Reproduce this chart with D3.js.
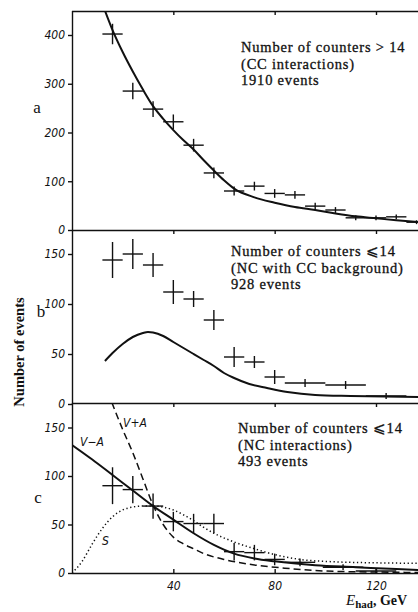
<!DOCTYPE html>
<html>
<head>
<meta charset="utf-8">
<script src="https://cdn.jsdelivr.net/npm/d3@7"></script>
<style>
  html, body { margin: 0; padding: 0; background: #fff; }
  svg { display: block; }
</style>
</head>
<body>
<div id="chart"></div>
<script>
// hadron energy bins (GeV) and counts
const energyA = [16, 24, 32, 40, 48, 56, 64, 72, 80, 88, 96, 104, 112, 120, 128, 136];
const countsA = [402, 285, 248, 222, 174, 117, 80, 90, 75, 72, 49, 41, 25, 25, 27, 16];
const errorsA = [21, 17, 16, 15, 13, 11, 9, 9, 9, 8, 7, 6, 5, 5, 5, 4];
const binHalfA = [4, 4, 4, 4, 4, 4, 4, 4, 4, 4, 4, 4, 4, 4, 4, 4];
const fitEnergyA = [13, 16, 20, 24, 28, 32, 36, 40, 44, 48, 52, 56, 60, 64, 72, 80, 88, 96, 104, 112, 120, 128, 137];
const fitA = [450, 410, 365, 325, 288, 254, 228, 205, 184, 165, 143, 122, 102, 85, 67, 56, 47, 41, 34, 28, 24, 20, 16];

const energyB = [16, 24, 32, 40, 48, 56, 64, 72, 80, 92, 108, 124];
const countsB = [144, 150, 139, 112, 105, 84, 47, 42, 27, 21, 19, 8];
const errorsB = [18, 15, 12, 12, 8, 10, 10, 6, 7, 4, 4, 3];
const binHalfB = [4, 4, 4, 4, 4, 4, 4, 4, 4, 8, 8, 8];
const fitEnergyB = [13, 16, 20, 24, 28, 30, 32, 36, 40, 44, 48, 52, 56, 60, 64, 70, 77, 85, 96, 110, 137];
const fitB = [43, 51, 60, 67, 71, 72, 71.5, 68, 62, 56, 50, 44, 38, 31, 26, 20, 16, 12, 9, 8, 7];

const energyC = [16, 24, 32, 40, 48, 56, 64, 72, 80, 90, 107, 120];
const countsC = [90, 86, 69, 53, 51, 51, 22, 21, 14, 11, 6, 2];
const errorsC = [19, 14, 13, 10, 10, 10, 9, 8, 6, 4, 3, 3];
const binHalfC = [4, 4, 4, 4, 4, 4, 4, 4, 4, 6, 8, 8];
const vmaEnergy = [0, 8, 16, 24, 32, 40, 48, 56, 64, 72, 80, 96, 112, 128, 137];
const vmaFit = [132, 117, 101, 85, 69, 55, 41, 29, 20, 15, 12, 8, 6, 4, 3];
const vpaEnergy = [15.7, 20, 24, 28, 32, 36, 40, 44, 48, 52, 60, 70, 84, 100, 120, 137];
const vpaFit = [176, 148, 124, 97, 70, 50, 37, 30, 25, 20, 14, 9, 5, 2, 1, 0.5];
const sEnergy = [0, 4, 8, 12, 16, 20, 24, 28, 32, 36, 40, 44, 48, 52, 56, 64, 72, 80, 90, 104, 120, 137];
const sFit = [0, 12, 30, 46, 58, 65, 68, 69, 69, 68, 65, 60, 54, 47, 41, 32, 25, 19, 14, 11.5, 10.5, 10];

const xTicks = [40, 80, 120];
const yTicksA = [0, 100, 200, 300, 400];
const yTicksB = [0, 50, 100, 150];
const yTicksC = [0, 50, 100, 150];

const notesA = ["Number of counters > 14", "(CC interactions)", "1910 events"];
const notesB = ["Number of counters \u2A7D14", "(NC with CC background)", "928 events"];
const notesC = ["Number of counters \u2A7D14", "(NC interactions)", "493 events"];

const width = 418, height = 612;
const left = 72;
const ink = "#111";
const tickFont = "'Liberation Sans Narrow', 'DejaVu Sans Condensed', 'Liberation Sans', sans-serif";
const serif = "'Liberation Serif', 'DejaVu Serif', serif";

const x = d3.scaleLinear().domain([0, 120]).range([left, 376]);

const panels = [
    { letter: "a", top: 11, bottom: 230, y: d3.scaleLinear().domain([0, 400]).range([230, 35]),
      ticks: yTicksA, energy: energyA, counts: countsA, errors: errorsA, half: binHalfA,
      notes: notesA, notesX: 241, notesY: 52, letterPos: [37, 113],
      curves: [{ e: fitEnergyA, v: fitA, dash: null, w: 2 }] },
    { letter: "b", top: 230, bottom: 404, y: d3.scaleLinear().domain([0, 150]).range([404, 254]),
      ticks: yTicksB, energy: energyB, counts: countsB, errors: errorsB, half: binHalfB,
      notes: notesB, notesX: 231, notesY: 256, letterPos: [41, 317],
      curves: [{ e: fitEnergyB, v: fitB, dash: null, w: 2 }] },
    { letter: "c", top: 403, bottom: 573, y: d3.scaleLinear().domain([0, 150]).range([573, 427.5]),
      ticks: yTicksC, energy: energyC, counts: countsC, errors: errorsC, half: binHalfC,
      notes: notesC, notesX: 238, notesY: 433, letterPos: [38, 503],
      curves: [
          { e: vmaEnergy, v: vmaFit, dash: null, w: 2 },
          { e: vpaEnergy, v: vpaFit, dash: "7,4", w: 1.5 },
          { e: sEnergy, v: sFit, dash: "1.3,2.6", w: 1.5 }
      ] }
];

const svg = d3.select("#chart")
    .append("svg")
    .attr("width", width)
    .attr("height", height)
    .attr("viewBox", [0, 0, width, height]);

panels.forEach((p, i) => {
    const clipId = "clip-" + p.letter;
    svg.append("clipPath")
        .attr("id", clipId)
        .append("rect")
        .attr("x", left)
        .attr("y", p.top)
        .attr("width", width - left)
        .attr("height", p.bottom - p.top);

    // frame lines with the small energy ticks
    svg.append("g")
        .attr("transform", `translate(0,${p.top})`)
        .call(d3.axisBottom(x).tickValues(xTicks).tickSize(4).tickFormat("").tickSizeOuter(0))
        .call(g => g.select(".domain").attr("d", `M${left},0.5H${width}`));

    // y axis
    const yAxis = svg.append("g")
        .attr("transform", `translate(${left},0)`)
        .call(d3.axisLeft(p.y).tickValues(p.ticks).tickSize(4).tickPadding(3).tickSizeOuter(0))
        .call(g => g.select(".domain").attr("d", `M0.5,${p.top}V${p.bottom}`));
    yAxis.selectAll("line, path").attr("stroke", ink).attr("stroke-width", 1.4);
    yAxis.selectAll("text")
        .attr("font-family", tickFont)
        .attr("font-style", "italic")
        .attr("font-size", 12)
        .attr("fill", ink);

    const g = svg.append("g").attr("clip-path", `url(#${clipId})`);

    p.curves.forEach(c => {
        const line = d3.line()
            .x((d, k) => x(d))
            .y((d, k) => p.y(c.v[k]))
            .curve(d3.curveMonotoneX);
        g.append("path")
            .attr("d", line(c.e))
            .attr("fill", "none")
            .attr("stroke", ink)
            .attr("stroke-width", c.w)
            .attr("stroke-dasharray", c.dash);
    });

    const pts = g.append("g")
        .attr("stroke", ink)
        .attr("stroke-width", 1.4)
        .selectAll("g")
        .data(p.energy.map((e, k) => ({ e, v: p.counts[k], err: p.errors[k], half: p.half[k] })))
        .join("g");
    pts.append("line")
        .attr("x1", d => x(d.e - d.half))
        .attr("x2", d => x(d.e + d.half))
        .attr("y1", d => p.y(d.v))
        .attr("y2", d => p.y(d.v));
    pts.append("line")
        .attr("x1", d => x(d.e))
        .attr("x2", d => x(d.e))
        .attr("y1", d => p.y(d.v - d.err))
        .attr("y2", d => p.y(d.v + d.err));

    svg.append("text")
        .attr("x", p.letterPos[0])
        .attr("y", p.letterPos[1])
        .attr("text-anchor", "middle")
        .attr("font-family", serif)
        .attr("font-size", 17)
        .attr("fill", ink)
        .text(p.letter);

    svg.append("g")
        .selectAll("text")
        .data(p.notes)
        .join("text")
        .attr("x", p.notesX)
        .attr("y", (d, k) => p.notesY + k * 16.5)
        .attr("font-family", serif)
        .attr("font-size", 14.5)
        .attr("letter-spacing", 0.8)
        .attr("fill", ink)
        .attr("stroke", ink)
        .attr("stroke-width", 0.3)
        .text(d => d);
});

// bottom axis
const xAxis = svg.append("g")
    .attr("transform", "translate(0,573)")
    .call(d3.axisBottom(x).tickValues(xTicks).tickSize(-4).tickPadding(8).tickSizeOuter(0))
    .call(g => g.select(".domain").attr("d", `M${left},0.5H${width}`));
xAxis.selectAll("line, path").attr("stroke", ink).attr("stroke-width", 1.4);
xAxis.selectAll("text")
    .attr("font-family", tickFont)
    .attr("font-style", "italic")
    .attr("font-size", 12)
    .attr("fill", ink);
svg.selectAll(".tick line").attr("stroke", ink).attr("stroke-width", 1.4);
svg.selectAll(".domain").attr("stroke", ink).attr("stroke-width", 1.4);

// curve names in panel c
const curveNames = [["V+A", 123, 427], ["V\u2212A", 80, 446], ["S", 102, 545]];
svg.append("g")
    .selectAll("text")
    .data(curveNames)
    .join("text")
    .attr("x", d => d[1])
    .attr("y", d => d[2])
    .attr("font-family", tickFont)
    .attr("font-style", "italic")
    .attr("font-size", 12)
    .attr("fill", ink)
    .text(d => d[0]);

// axis titles
svg.append("text")
    .attr("transform", "translate(24,352) rotate(-90)")
    .attr("text-anchor", "middle")
    .attr("font-family", serif)
    .attr("font-weight", "bold")
    .attr("font-size", 14.5)
    .attr("fill", ink)
    .text("Number of events");

const xTitle = svg.append("text")
    .attr("x", 346)
    .attr("y", 605)
    .attr("font-family", serif)
    .attr("font-size", 15)
    .attr("fill", ink);
xTitle.append("tspan").attr("font-style", "italic").text("E");
xTitle.append("tspan").attr("font-weight", "bold").attr("font-size", 11).attr("dy", 3).text("had");
xTitle.append("tspan").attr("font-weight", "bold").attr("font-size", 14).attr("dy", -3).text(", GeV");
</script>
</body>
</html>
